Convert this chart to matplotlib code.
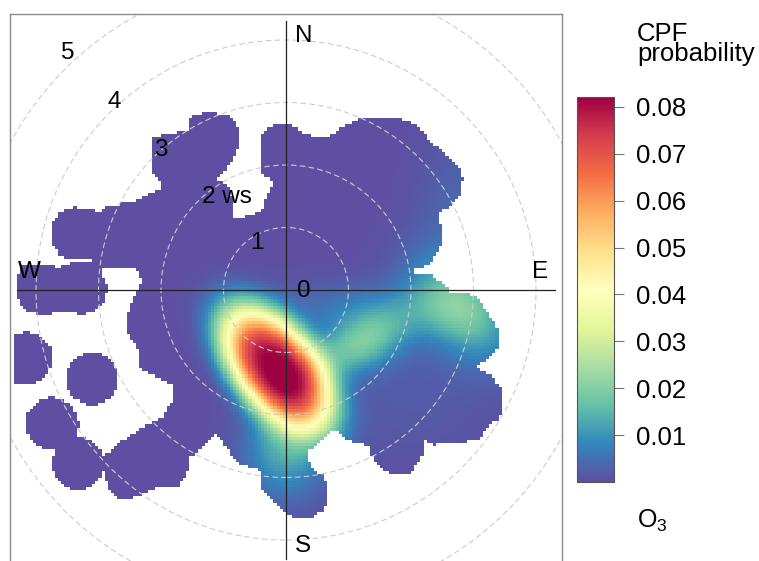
import numpy as np
import matplotlib
matplotlib.use("Agg")
import matplotlib.pyplot as plt
from matplotlib.path import Path
from matplotlib.patches import Circle

plt.rcParams['font.family'] = ['Liberation Sans', 'DejaVu Sans']
plt.rcParams['mathtext.fontset'] = 'custom'
plt.rcParams['mathtext.rm'] = 'Liberation Sans'
plt.rcParams['mathtext.it'] = 'Liberation Sans:italic'

# ---------------- data (u = east component, v = north component, in ws units) -------------
# CPF probability surface, described as smooth kernels
blob_u     = [-0.15, 0.00, 1.20, 2.80, 1.30, 2.80, 2.00]
blob_v     = [-1.25, -2.50, -0.85, -0.30, -0.30, 1.00, -1.70]
blob_amp   = [0.082, 0.014, 0.018, 0.017, 0.006, 0.004, 0.002]
blob_smaj  = [0.90, 0.55, 0.55, 0.65, 1.10, 1.00, 1.00]
blob_smin  = [0.50, 0.45, 0.30, 0.42, 0.30, 0.50, 0.80]
blob_angle = [-50, -90, 25, -45, 0, 90, 0]
blob_power = [1.5, 1.0, 1.0, 1.0, 1.0, 1.0, 1.0]

# outline of the area that has data
cover_u = [-4.26, -4.05, -3.78, -3.62, -3.50, -3.14, -3.02, -3.14, -3.62, -3.74, -3.74, -3.62,
           -3.41, -3.14, -3.02, -2.82, -2.45, -2.29, -2.02, -1.97, -2.14, -2.13, -1.97, -1.57,
           -1.54, -1.26, -0.90, -0.77, -0.77, -0.90, -1.09, -0.94, -0.86, -0.85, -0.58, -0.37,
           -0.30, -0.18, -0.42, -0.42, -0.26, -0.02, 0.18, 0.27, 0.59, 0.75, 0.98, 1.18,
           1.78, 2.03, 2.19, 2.30, 2.50, 2.62, 2.78, 2.83, 2.78, 2.67, 2.42, 2.50,
           2.50, 2.42, 2.30, 2.06, 2.03, 2.30, 2.51, 2.62, 2.90, 3.10, 3.26, 3.39,
           3.39, 3.22, 3.02, 3.31, 3.47, 3.47, 3.38, 3.22, 3.10, 2.74, 2.35, 2.18,
           2.19, 2.11, 1.98, 1.71, 1.50, 1.38, 1.34, 0.98, 0.75, 0.59, 0.34, 0.34,
           0.43, 0.59, 0.67, 0.67, 0.59, 0.43, 0.14, 0.02, -0.10, -0.26, -0.42, -0.42,
           -0.78, -1.01, -1.10, -1.38, -1.54, -1.58, -1.74, -2.06, -2.34, -2.66, -2.86, -2.93,
           -2.61, -2.22, -1.97, -1.81, -1.78, -1.97, -2.37, -2.37, -2.54, -2.54, -2.45, -2.34,
           -2.29, -2.38, -2.77, -2.98, -2.85, -2.90, -3.06, -3.25, -3.46, -3.62, -3.86, -4.10,
           -4.26, -4.30]
cover_v = [0.37, 0.42, 0.40, 0.35, 0.42, 0.45, 0.43, 0.50, 0.53, 0.75, 1.07, 1.25,
           1.33, 1.31, 1.25, 1.36, 1.39, 1.49, 1.60, 1.66, 1.87, 2.45, 2.48, 2.56,
           2.77, 2.85, 2.80, 2.61, 2.24, 2.03, 1.76, 1.68, 1.44, 1.12, 1.20, 1.28,
           1.52, 1.71, 1.89, 2.48, 2.61, 2.66, 2.61, 2.51, 2.43, 2.51, 2.64, 2.75,
           2.75, 2.67, 2.56, 2.35, 2.24, 2.13, 1.92, 1.76, 1.49, 1.39, 1.20, 1.01,
           0.75, 0.59, 0.43, 0.32, 0.24, 0.24, 0.13, -0.03, -0.05, -0.16, -0.43, -0.61,
           -0.96, -1.12, -1.23, -1.39, -1.60, -1.92, -2.08, -2.19, -2.40, -2.45, -2.48, -2.40,
           -2.61, -2.77, -2.96, -2.96, -2.83, -2.67, -2.51, -2.40, -2.21, -2.40, -2.59, -2.69,
           -2.88, -2.96, -3.12, -3.36, -3.52, -3.63, -3.65, -3.60, -3.47, -3.31, -3.15, -2.88,
           -2.77, -2.45, -2.29, -2.56, -2.67, -2.93, -3.15, -3.15, -3.31, -3.36, -3.15, -2.67,
           -2.40, -2.16, -2.03, -1.76, -1.55, -1.44, -1.23, -0.96, -0.69, -0.37, -0.16, 0.05,
           0.16, 0.32, 0.37, 0.35, 0.05, -0.16, -0.32, -0.40, -0.34, -0.34, -0.40, -0.35,
           -0.24, 0.00]

# separate small patches of data
disk_u = [-3.10, -4.16, -3.74, -3.33]
disk_v = [-1.42, -1.09, -2.14, -2.77]
disk_r = [0.42, 0.42, 0.42, 0.42]

grid_lim = 4.35
ring_ws = [1, 2, 3, 4, 5]
cbar_ticks = [0.01, 0.02, 0.03, 0.04, 0.05, 0.06, 0.07, 0.08]
cpf_max = 0.0821

# ---------------- build surface -------------
step = 0.05
g = np.arange(-grid_lim, grid_lim, step) + step / 2
U, V = np.meshgrid(g, g)
Z = np.zeros_like(U)
for u0, v0, a, sM, sm, ang, p in zip(blob_u, blob_v, blob_amp, blob_smaj, blob_smin,
                                      blob_angle, blob_power):
    t = np.deg2rad(ang)
    du, dv = U - u0, V - v0
    xm = du * np.cos(t) + dv * np.sin(t)
    xn = -du * np.sin(t) + dv * np.cos(t)
    q = (xm / sM) ** 2 + (xn / sm) ** 2
    Z += a * np.exp(-0.5 * q ** p)
Z = np.clip(Z, 0, cpf_max)

pts = np.column_stack([U.ravel(), V.ravel()])
inside = Path(np.column_stack([cover_u, cover_v])).contains_points(pts).reshape(U.shape)
for du0, dv0, r in zip(disk_u, disk_v, disk_r):
    inside |= (U - du0) ** 2 + (V - dv0) ** 2 <= r ** 2
Zm = np.ma.masked_where(~inside, Z)

# ---------------- figure -------------
W, H = 759, 561
fig = plt.figure(figsize=(W / 100, H / 100), dpi=100)
lim = 4.416
ax = fig.add_axes([10 / W, (H - 566) / H, 552 / W, 552 / H])
ax.set_xlim(-lim, lim)
ax.set_ylim(-lim, lim)
ax.set_xticks([])
ax.set_yticks([])
for s in ax.spines.values():
    s.set_edgecolor('#8a8a8a')
    s.set_linewidth(1.0)

im = ax.imshow(Zm, cmap='Spectral_r', vmin=0, vmax=cpf_max, origin='lower',
               extent=[-grid_lim, grid_lim, -grid_lim, grid_lim],
               interpolation='nearest', zorder=1)

for r in ring_ws:
    ax.add_patch(Circle((0, 0), r, fill=False, edgecolor='#cccccc', lw=0.8,
                        linestyle=(0, (5, 3)), zorder=2))
ax.plot([-4.3, 4.3], [0, 0], color='#222222', lw=0.9, zorder=3)
ax.plot([0, 0], [-4.3, 4.3], color='#222222', lw=0.9, zorder=3)

fs = 17.5
ax.text(0.29, 4.06, 'N', fontsize=fs, ha='center', va='center', zorder=4)
ax.text(0.27, -4.10, 'S', fontsize=fs, ha='center', va='center', zorder=4)
ax.text(4.06, 0.29, 'E', fontsize=fs, ha='center', va='center', zorder=4)
ax.text(-4.10, 0.29, 'W', fontsize=fs, ha='center', va='center', zorder=4)
ax.text(0.28, -0.01, '0', fontsize=fs, ha='center', va='center', zorder=4)
lab_pos = {1: (-0.46, 0.75), 2: (-1.34, 1.49), 3: (-2.00, 2.24), 4: (-2.75, 3.01), 5: (-3.50, 3.79)}
for r in ring_ws:
    x, y = lab_pos[r]
    if r == 2:
        ax.text(x, y, f'{r} ws', fontsize=fs, ha='left', va='center', zorder=4)
    else:
        ax.text(x, y, f'{r}', fontsize=fs, ha='center', va='center', zorder=4)

cax = fig.add_axes([577 / W, (H - 482) / H, 37 / W, 385 / H])
cb = fig.colorbar(im, cax=cax, ticks=cbar_ticks)
cb.ax.set_yticklabels([f'{t:.2f}' for t in cbar_ticks])
cb.ax.tick_params(length=7, width=0.8, color='#777777', labelsize=18.5, pad=9)
cb.outline.set_edgecolor('#555555')
cb.outline.set_linewidth(0.8)

fig.text(637 / W, (H - 22) / H, 'CPF\nprobability', fontsize=18.5, ha='left', va='top',
         linespacing=0.78)
fig.text(637 / W, (H - 528) / H, r'O$_3$', fontsize=18, ha='left', va='baseline')

fig.savefig('out.png', dpi=100)
